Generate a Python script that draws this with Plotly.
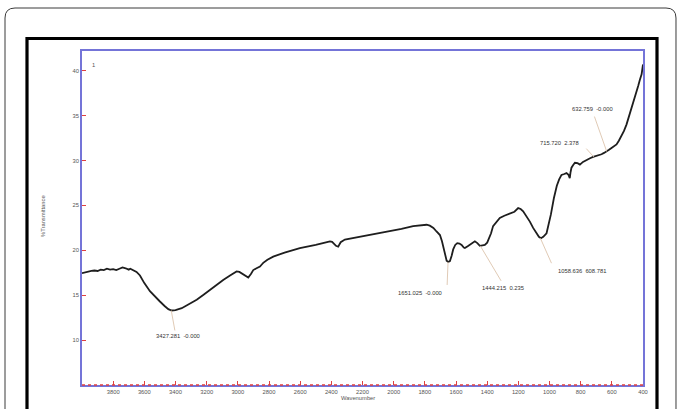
import plotly.graph_objects as go

# ---- data ----
wavenumber = [4000, 3980, 3960, 3940, 3920, 3900, 3880, 3860, 3840, 3820, 3800, 3780, 3760, 3740,
              3720, 3700, 3690, 3670, 3650, 3628, 3600, 3564, 3530, 3500, 3470, 3446, 3425, 3400,
              3360, 3310, 3264, 3220, 3179, 3136, 3094, 3050, 3008, 2990, 2976, 2950, 2933, 2915,
              2901, 2880, 2858, 2845, 2837, 2810, 2773, 2700, 2602, 2500, 2409, 2395, 2388, 2370,
              2356, 2340, 2313, 2250, 2153, 2024, 1950, 1875, 1820, 1789, 1768, 1745, 1725, 1703,
              1690, 1682, 1670, 1660, 1650, 1639, 1628, 1618, 1605, 1592, 1578, 1564, 1550, 1543,
              1525, 1511, 1495, 1479, 1463, 1447, 1430, 1415, 1400, 1394, 1375, 1362, 1340, 1319,
              1290, 1254, 1225, 1201, 1185, 1169, 1150, 1126, 1105, 1083, 1068, 1055, 1040, 1019,
              1010, 991, 972, 953, 938, 923, 905, 891, 878, 870, 865, 859, 848, 837, 820, 805, 785,
              762, 740, 720, 690, 666, 650, 634, 618, 602, 585, 570, 555, 538, 522, 506, 490, 474,
              463, 453, 442, 431, 420, 409, 400]
transmittance = [17.45, 17.55, 17.6, 17.7, 17.75, 17.7, 17.85, 17.8, 17.95, 17.85, 17.9, 17.8, 17.95, 18.1,
                 18.0, 17.85, 17.95, 17.8, 17.6, 17.2, 16.35, 15.45, 14.8, 14.3, 13.8, 13.45, 13.3, 13.35,
                 13.55, 14.0, 14.5, 15.05, 15.6, 16.15, 16.7, 17.2, 17.65, 17.6, 17.45, 17.2, 16.97, 17.4,
                 17.8, 18.0, 18.2, 18.45, 18.6, 18.95, 19.3, 19.75, 20.25, 20.6, 21.0, 20.95, 20.8, 20.5,
                 20.4, 20.9, 21.2, 21.4, 21.7, 22.1, 22.4, 22.7, 22.8, 22.85, 22.75, 22.5, 22.1, 21.7,
                 21.0, 20.4, 19.5, 18.85, 18.7, 18.8, 19.4, 20.1, 20.6, 20.8, 20.75, 20.6, 20.3, 20.25,
                 20.45, 20.6, 20.8, 21.0, 20.8, 20.5, 20.55, 20.6, 20.85, 21.1, 21.9, 22.7, 23.2, 23.6,
                 23.85, 24.1, 24.3, 24.7, 24.6, 24.35, 23.9, 23.2, 22.5, 21.9, 21.5, 21.35, 21.5, 21.9,
                 22.5, 24.0, 25.8, 27.2, 27.9, 28.4, 28.5, 28.6, 28.4, 28.05, 28.7, 29.2, 29.5, 29.75,
                 29.7, 29.55, 29.85, 30.1, 30.25, 30.4, 30.55, 30.7, 30.85, 31.0, 31.2, 31.4, 31.6, 31.8,
                 32.2, 32.7, 33.3, 34.0, 34.9, 35.9, 36.3, 36.8, 37.6, 38.3, 39.0, 39.6, 40.7]

x_ticks = [3800, 3600, 3400, 3200, 3000, 2800, 2600, 2400, 2200, 2000, 1800, 1600, 1400, 1200, 1000, 800, 600, 400]
y_ticks = [10, 15, 20, 25, 30, 35, 40]

peak_labels = ["3427.281  -0.000", "1651.025  -0.000", "1444.215  0.235",
               "1058.636  608.781", "715.720  2.378", "632.759  -0.000"]
peak_x = [3427.281, 1651.025, 1444.215, 1058.636, 715.720, 632.759]
peak_y = [13.3, 18.7, 20.5, 21.35, 30.4, 31.0]
# leader-line end offsets (px) and text offsets (px)
leader_dx = [4, -1, 22, 12, -9, -13]
leader_dy = [22, 25, 37, 27, -10, -37]
text_dx = [7, -28, 23, 42, -34, -14]
text_dy = [-26, -31, -42, -33, 14, 43]

# ---- layout geometry ----
W, H = 677, 409
L, R, T, B = 82, 643, 51, 385


def P(px, py):
    return (px - L) / (R - L), (B - py) / (B - T)


fig = go.Figure()
fig.add_trace(go.Scatter(x=wavenumber, y=transmittance, mode="lines",
                         line=dict(color="#1e1e1e", width=1.8), hoverinfo="skip"))

annotations = []
leader_col = "#dcc4ad"
lab_font = dict(family="Liberation Sans, Arial", size=5.8, color="#333333")
for lab, px_, py_, ldx, ldy, tdx, tdy in zip(peak_labels, peak_x, peak_y, leader_dx, leader_dy, text_dx, text_dy):
    annotations.append(dict(x=px_, y=py_, xref="x", yref="y", text=" ", font=dict(size=1),
                            showarrow=True, arrowhead=0, arrowwidth=0.9, arrowcolor=leader_col,
                            ax=ldx, ay=ldy, standoff=0, startstandoff=0))
    annotations.append(dict(x=px_, y=py_, xref="x", yref="y", text=lab, font=lab_font,
                            showarrow=False, xshift=tdx, yshift=tdy))

small = dict(family="Liberation Sans, Arial", size=5.8, color="#555555")
ax_, ay_ = P(90, 60)
annotations.append(dict(x=ax_, y=ay_, xref="paper", yref="paper", text="1", showarrow=False, font=small))
tx, ty = P(38, 216)
annotations.append(dict(x=tx, y=ty, xref="paper", yref="paper", text="%Transmittance",
                        textangle=-90, showarrow=False, font=small))
wx, wy = P(358, 403)
annotations.append(dict(x=wx, y=wy, xref="paper", yref="paper", text="Wavenumber",
                        showarrow=False, font=small))

shapes = []


def s(px, py):
    a, b = P(px, py)
    return f"{a:.5f},{b:.5f}"


outer = (f"M {s(5, 430)} L {s(5, 18)} Q {s(5, 8)} {s(15, 8)} L {s(666, 8)} "
         f"Q {s(676, 8)} {s(676, 18)} L {s(676, 430)}")
shapes.append(dict(type="path", xref="paper", yref="paper", path=outer,
                   line=dict(color="#3a3a3a", width=1)))
x0, y0 = P(27, 430)
x1, y1 = P(657, 38.5)
shapes.append(dict(type="rect", xref="paper", yref="paper", x0=x0, y0=y0, x1=x1, y1=y1,
                   line=dict(color="#000000", width=3.2)))
# red dashed marks along bottom axis
shapes.append(dict(type="line", xref="paper", yref="paper", x0=0, y0=0, x1=1, y1=0,
                   line=dict(color="#e04040", width=1.5, dash="dot")))

axis_col = "#7474d8"
fig.update_layout(
    width=W, height=H,
    margin=dict(l=L, r=W - R, t=T, b=H - B, pad=0),
    paper_bgcolor="white", plot_bgcolor="white",
    showlegend=False,
    annotations=annotations,
    shapes=shapes,
    xaxis=dict(range=[4000, 400], tickvals=x_ticks, ticktext=[str(v) for v in x_ticks],
               showgrid=False, zeroline=False, showline=True, linecolor=axis_col, linewidth=1.8,
               mirror=True, ticks="inside", ticklen=4, tickwidth=1.2, tickcolor="#e04040",
               tickfont=small),
    yaxis=dict(range=[5, 42.2], tickvals=y_ticks, ticktext=[str(v) for v in y_ticks],
               showgrid=False, zeroline=False, showline=True, linecolor=axis_col, linewidth=1.8,
               mirror=True, ticks="inside", ticklen=4, tickwidth=1.2, tickcolor="#e04040",
               tickfont=small),
)

fig.write_html("out.html")
